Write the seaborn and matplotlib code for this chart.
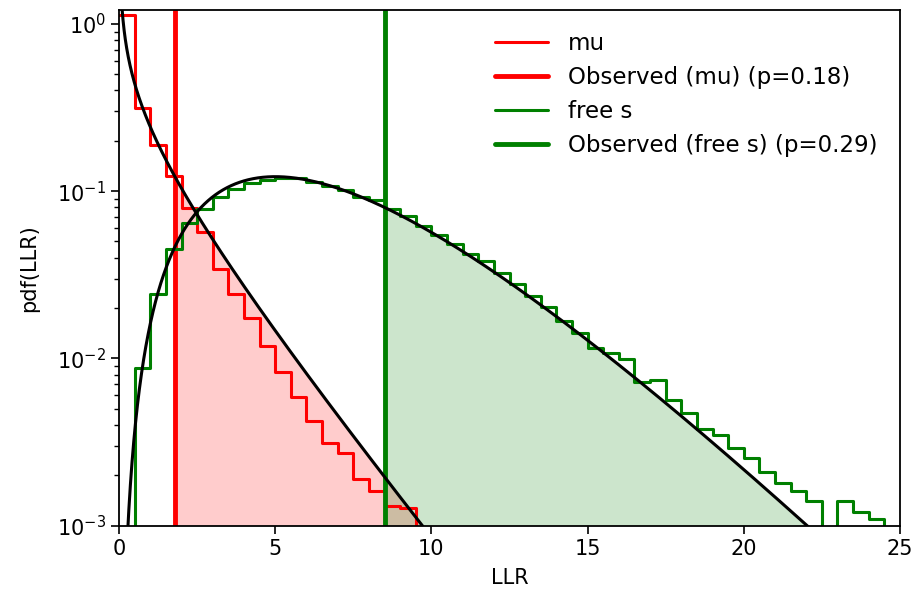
import math
import numpy as np
import pandas as pd
import matplotlib
matplotlib.use("Agg")
import matplotlib.pyplot as plt
import seaborn as sns

# ---------------- data ----------------
bin_width = 0.5
mu_range = (0.0, 10.0)
mu_values = [1.13, 0.314, 0.19, 0.124, 0.0794, 0.0568, 0.034, 0.0241,
             0.0175, 0.0118, 0.0083, 0.0059, 0.0042, 0.0031, 0.0027,
             0.0019, 0.0016, 0.0013, 0.00127, 0.0]

free_range = (0.0, 25.0)
free_values = [0.0, 0.0087, 0.0241, 0.0448, 0.0646, 0.078, 0.092, 0.103,
               0.112, 0.117, 0.120, 0.120, 0.113, 0.108, 0.101, 0.092,
               0.089, 0.078, 0.071, 0.062, 0.055, 0.048, 0.042, 0.038,
               0.0323, 0.0277, 0.0237, 0.0203, 0.0167, 0.0141, 0.0116,
               0.0107, 0.0099, 0.0072, 0.0074, 0.0056, 0.0047, 0.0038,
               0.0035, 0.0029, 0.00255, 0.0021, 0.0018, 0.0016, 0.0014,
               0.0, 0.0014, 0.0012, 0.0011, 0.0]

df_mu = 1          # chi-square degrees of freedom (mu)
df_free = 7        # chi-square degrees of freedom (free s)
obs_mu = 1.78
obs_free = 8.5
labels = ["mu", "Observed (mu) (p=0.18)", "free s", "Observed (free s) (p=0.29)"]


def chi2_pdf(x, k):
    return x ** (k / 2 - 1) * np.exp(-x / 2) / (2 ** (k / 2) * math.gamma(k / 2))


def centers(rng, n):
    return rng[0] + bin_width * (np.arange(n) + 0.5)


# ---------------- plot ----------------
sns.set_style("ticks")
plt.rcParams["font.family"] = ["DejaVu Sans"]
for key in ["text.color", "axes.labelcolor", "xtick.color", "ytick.color", "axes.edgecolor"]:
    plt.rcParams[key] = "black"

fig = plt.figure(figsize=(9.16, 5.94), dpi=100)
ax = fig.add_axes([0.130, 0.1153, 0.8525, 0.8677])

xs = np.linspace(1e-4, 25, 4000)
pdf_mu = chi2_pdf(xs, df_mu)
pdf_free = chi2_pdf(xs, df_free)

ax.fill_between(xs, pdf_mu, 1e-9, where=xs >= obs_mu, color="red", alpha=0.2, linewidth=0)
ax.fill_between(xs, pdf_free, 1e-9, where=xs >= obs_free, color="green", alpha=0.2, linewidth=0)

mu_df = pd.DataFrame({"x": centers(mu_range, len(mu_values)), "w": mu_values})
free_df = pd.DataFrame({"x": centers(free_range, len(free_values)), "w": free_values})

sns.histplot(data=mu_df, x="x", weights="w", binwidth=bin_width, binrange=mu_range,
             element="step", fill=False, color="red", linewidth=2.2, ax=ax, label=labels[0])
ax.axvline(obs_mu, color="red", linewidth=3.5, label=labels[1])
sns.histplot(data=free_df, x="x", weights="w", binwidth=bin_width, binrange=free_range,
             element="step", fill=False, color="green", linewidth=2.2, ax=ax, label=labels[2])
ax.axvline(obs_free, color="green", linewidth=3.5, label=labels[3])

ax.plot(xs, pdf_mu, color="black", linewidth=2.2)
ax.plot(xs, pdf_free, color="black", linewidth=2.2)

ax.set_yscale("log")
ax.set_xlim(0, 25)
ax.set_ylim(1e-3, 1.21)
ax.set_xticks([0, 5, 10, 15, 20, 25])
ax.set_xlabel("LLR", fontsize=15, labelpad=7)
ax.set_ylabel("pdf(LLR)", fontsize=15, labelpad=13)
ax.tick_params(axis="both", which="major", labelsize=15, length=6, width=1.2, color="black")
ax.tick_params(axis="y", which="minor", length=3.5, width=1, color="black")
for s in ax.spines.values():
    s.set_color("black")
    s.set_linewidth(1.3)

handles, labs = ax.get_legend_handles_labels()
order = [labs.index(l) for l in labels]
ax.legend([handles[i] for i in order], [labs[i] for i in order], loc="upper right",
          frameon=False, fontsize=16.5, handlelength=2.3, handletextpad=0.9,
          labelspacing=0.47, borderaxespad=0.57)

fig.savefig("out.png", dpi=100)
